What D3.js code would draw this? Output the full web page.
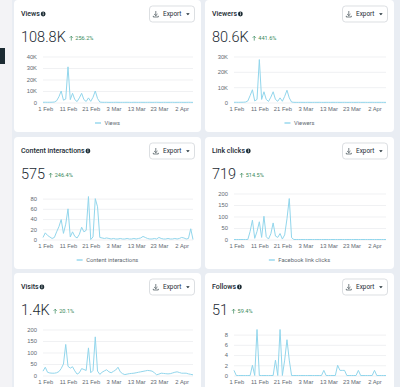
<!DOCTYPE html>
<html lang="en">
<head>
<meta charset="UTF-8">
<title>Page overview</title>
<script src="https://d3js.org/d3.v7.min.js"></script>
<style>
  body { margin: 0; background: #e9edf3; }
  svg { display: block; font-family: Roboto, "Noto Sans", sans-serif; }
  .title { font-size: 7px; font-weight: 500; fill: #1c2b33; }
  .total { font-size: 14.5px; font-weight: 300; fill: #1c2b33; }
  .change { font-size: 5.6px; fill: #3a8a5c; }
  .tick text { font-size: 5.8px; fill: #5f6a72; }
  .legend { font-size: 5.8px; fill: #5f6a72; }
  .btn { font-size: 6.4px; fill: #1c2b33; }
</style>
</head>
<body>
<div id="chart"></div>
<script>
// daily values, 31 Jan 2025 .. 7 Apr 2025
const firstDay = "2025-01-31"
const tickLabels = ["1 Feb", "11 Feb", "21 Feb", "3 Mar", "13 Mar", "23 Mar", "2 Apr"]

const titles = ["Views", "Viewers", "Content interactions", "Link clicks", "Visits", "Follows"]
const totals = ["108.8K", "80.6K", "575", "719", "1.4K", "51"]
const changes = ["256.2%", "441.6%", "246.4%", "514.5%", "20.1%", "59.4%"]
const legendNames = ["Views", "Viewers", "Content interactions", "Facebook link clicks", "Visits", "Follows"]
const yMax = [40000, 30000, 90, 200, 200, 9]
const yTicks = [
  [0, 10000, 20000, 30000, 40000],
  [0, 10000, 20000, 30000],
  [0, 20, 40, 60, 80],
  [0, 50, 100, 150, 200],
  [0, 50, 100, 150, 200],
  [0, 2, 4, 6, 8]
]

const views = [
  180, 220, 190, 210, 250, 400, 1500, 5000, 10000, 2000,
  3000, 31000, 2500, 8000, 2500, 800, 4000, 8000, 2500, 900,
  4000, 1000, 4500, 10000, 3500, 400, 200, 150, 180, 120,
  160, 140, 200, 170, 130, 150, 160, 190, 140, 120,
  180, 150, 130, 170, 160, 140, 150, 180, 120, 160,
  200, 140, 130, 170, 150, 160, 140, 180, 120, 150,
  170, 160, 130, 140, 190, 150, 120
]
const viewers = [
  130, 140, 120, 160, 180, 300, 1000, 4500, 8300, 1000,
  2000, 28000, 2000, 7000, 2000, 700, 3500, 7000, 2000, 800,
  3000, 800, 4000, 8000, 3000, 300, 120, 100, 90, 110,
  100, 80, 120, 100, 90, 110, 100, 130, 90, 80,
  110, 100, 90, 120, 100, 110, 90, 100, 120, 80,
  100, 110, 90, 100, 130, 90, 100, 110, 80, 100,
  120, 90, 100, 110, 90, 100, 80
]
const interactions = [
  4, 13, 8, 5, 2, 4, 15, 25, 39, 12,
  30, 60, 5, 15, 6, 3, 10, 24, 15, 18,
  84, 0, 5, 80, 64, 4, 3, 2, 3, 2,
  1, 2, 1, 1, 2, 1, 1, 2, 1, 1,
  2, 1, 2, 3, 6, 4, 2, 1, 1, 2,
  1, 4, 2, 1, 1, 2, 1, 1, 2, 1,
  2, 4, 3, 1, 2, 21, 0
]
const linkClicks = [
  0, 0, 0, 0, 0, 0, 0, 35, 84, 5,
  35, 77, 9, 101, 12, 2, 25, 72, 15, 9,
  26, 2, 20, 90, 178, 8, 0, 0, 0, 0,
  0, 0, 0, 0, 0, 0, 0, 0, 0, 0,
  0, 0, 0, 0, 0, 0, 0, 0, 0, 0,
  0, 0, 0, 0, 0, 0, 0, 0, 0, 0,
  0, 0, 0, 0, 0, 0, 0
]
const visits = [
  19, 36, 14, 11, 10, 10, 12, 17, 30, 50,
  135, 40, 32, 38, 20, 6, 12, 30, 26, 22,
  120, 12, 22, 168, 19, 5, 14, 20, 25, 16,
  12, 18, 24, 36, 16, 8, 4, 6, 8, 9,
  10, 12, 14, 16, 18, 20, 22, 21, 19, 12,
  3, 6, 10, 9, 8, 7, 8, 11, 14, 16,
  13, 10, 10, 10, 7, 5, 3
]
const follows = [
  1, 0, 0, 0, 0, 0, 0, 0, 2, 0,
  9, 0, 0, 0, 0, 0, 0, 0, 3, 0,
  9, 0, 3, 7, 3, 0, 0, 0, 0, 0,
  0, 0, 0, 0, 0, 0, 0, 0, 0, 1,
  0, 0, 0, 0, 0, 2, 1, 1, 1, 0,
  0, 0, 0, 0, 1, 0, 0, 0, 0, 0,
  0, 1, 0, 0, 0, 0, 0
]
const series = [views, viewers, interactions, linkClicks, visits, follows]

const width = 400
const height = 387
const cols = [{ x: 14, w: 187 }, { x: 205, w: 189 }]
const rows = [0, 137, 273]
const cardH = 132
const lineColor = "#92d6ec"

const start = d3.timeParse("%Y-%m-%d")(firstDay)
const days = series[0].map((_, i) => d3.timeDay.offset(start, i))
const parseTick = d3.timeParse("%d %b %Y")
const tickDates = tickLabels.map(t => parseTick(t + " 2025"))

const svg = d3.select("#chart")
  .append("svg")
  .attr("width", width)
  .attr("height", height)

svg.append("rect")
  .attr("width", width).attr("height", height)
  .attr("fill", "#e9edf3")
svg.append("rect")
  .attr("width", 12).attr("height", height)
  .attr("fill", "#f3f3f6")
// dark tab of the side menu
svg.append("rect")
  .attr("x", 0).attr("y", 48).attr("width", 5).attr("height", 16)
  .attr("fill", "#1c2b33")

const kFormat = d => d === 0 ? "0" : (d / 1000) + "K"

series.forEach((values, i) => {
  const col = cols[i % 2]
  const top = rows[Math.floor(i / 2)]
  const w = col.w

  const g = svg.append("g").attr("transform", `translate(${col.x},${top})`)

  g.append("rect")
    .attr("width", w).attr("height", cardH)
    .attr("rx", 4)
    .attr("fill", "white")

  // header
  const title = g.append("text")
    .attr("class", "title")
    .attr("x", 7).attr("y", 14)
    .attr("dominant-baseline", "central")
    .text(titles[i])
  const tw = title.node().getComputedTextLength()
  g.append("circle")
    .attr("cx", 7 + tw + 3.3).attr("cy", 14)
    .attr("r", 2.4).attr("fill", "#1c2b33")
  g.append("rect")
    .attr("x", 7 + tw + 3.3 - 0.35).attr("y", 13.2)
    .attr("width", 0.7).attr("height", 2.1)
    .attr("fill", "white")
  g.append("rect")
    .attr("x", 7 + tw + 3.3 - 0.35).attr("y", 12.1)
    .attr("width", 0.7).attr("height", 0.7)
    .attr("fill", "white")

  // export button
  const bx = w - 6.5 - 45
  const btn = g.append("g").attr("transform", `translate(${bx},6)`)
  btn.append("rect")
    .attr("width", 45).attr("height", 16).attr("rx", 3)
    .attr("fill", "white").attr("stroke", "#cdd1d6").attr("stroke-width", 0.7)
  btn.append("path")
    .attr("d", "M6.3,5 V9.6 M4.6,8 L6.3,9.7 L8,8 M3.8,9.8 V11 H8.8 V9.8")
    .attr("fill", "none").attr("stroke", "#1c2b33").attr("stroke-width", 0.6)
  btn.append("text")
    .attr("class", "btn")
    .attr("x", 13.5).attr("y", 8)
    .attr("dominant-baseline", "central")
    .text("Export")
  btn.append("path")
    .attr("d", "M36.6,7.2 L40.2,7.2 L38.4,9.2 Z")
    .attr("fill", "#1c2b33")

  // total and change
  const total = g.append("text")
    .attr("class", "total")
    .attr("x", 7).attr("y", 41.7)
    .text(totals[i])
  const totW = total.node().getComputedTextLength()
  const ax = 7 + totW + 5.5
  g.append("path")
    .attr("d", `M${ax},40.6 V36.2 M${ax - 1.6},37.8 L${ax},36.2 L${ax + 1.6},37.8`)
    .attr("fill", "none").attr("stroke", "#3a8a5c").attr("stroke-width", 0.7)
  g.append("text")
    .attr("class", "change")
    .attr("x", ax + 4).attr("y", 38.4)
    .attr("dominant-baseline", "central")
    .text(changes[i])

  // chart
  const left = 29
  const right = w - 8
  const plotTop = 56.5
  const plotBottom = 102.5

  const x = d3.scaleTime()
    .domain([days[0], days[days.length - 1]])
    .range([left, right])
  const y = d3.scaleLinear()
    .domain([0, yMax[i]])
    .range([plotBottom, plotTop])

  const yAxis = d3.axisLeft(y)
    .tickValues(yTicks[i])
    .tickSize(-(right - left))
    .tickPadding(6)
    .tickFormat(yMax[i] >= 1000 ? kFormat : d3.format("d"))

  g.append("g")
    .attr("transform", `translate(${left},0)`)
    .call(yAxis)
    .call(a => a.select(".domain").remove())
    .call(a => a.selectAll("line").attr("stroke", "#e6e8eb").attr("stroke-width", 0.6))

  const xAxis = d3.axisBottom(x)
    .tickValues(tickDates)
    .tickSize(0)
    .tickPadding(4)
    .tickFormat(d3.timeFormat("%-d %b"))

  g.append("g")
    .attr("transform", `translate(0,${plotBottom})`)
    .call(xAxis)
    .call(a => a.select(".domain").remove())

  const line = d3.line()
    .x((d, j) => x(days[j]))
    .y(d => y(d))

  g.append("path")
    .datum(values)
    .attr("d", line)
    .attr("fill", "none")
    .attr("stroke", lineColor)
    .attr("stroke-width", 1)
    .attr("stroke-linejoin", "round")

  // legend (the bottom row's legend lies below the visible area)
  const legendY = 123
  if (top + legendY + 4 > height) return
  const leg = g.append("g")
  const lt = leg.append("text")
    .attr("class", "legend")
    .attr("y", legendY)
    .attr("dominant-baseline", "central")
    .text(legendNames[i])
  const lw = lt.node().getComputedTextLength()
  const lx = w / 2 - (lw + 9.5) / 2
  leg.append("line")
    .attr("x1", lx).attr("x2", lx + 6)
    .attr("y1", legendY).attr("y2", legendY)
    .attr("stroke", lineColor).attr("stroke-width", 1.4)
  lt.attr("x", lx + 9.5)
})
</script>
</body>
</html>
